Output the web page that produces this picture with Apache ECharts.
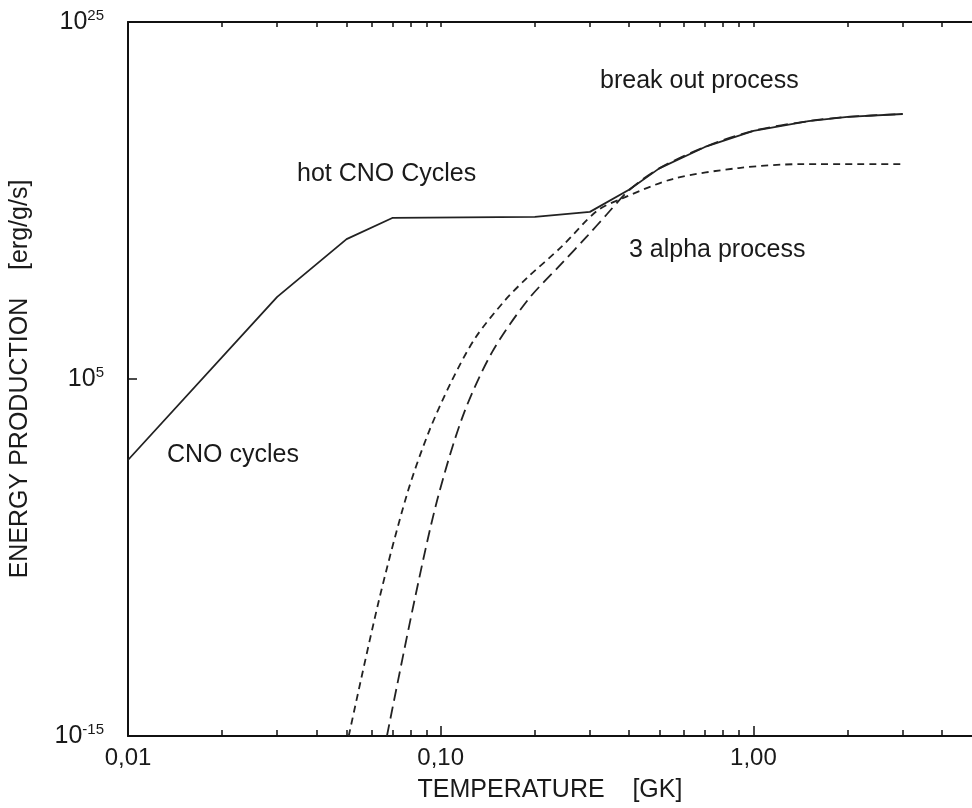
<!DOCTYPE html>
<html><head><meta charset="utf-8">
<script src="https://cdn.jsdelivr.net/npm/echarts@6/dist/echarts.min.js"></script>
<style>html,body{margin:0;padding:0;background:#fff}#c{width:972px;height:808px}</style>
</head><body><div id="c"></div>
<script>
// CNO cycles / hot CNO / break-out (solid)
const cnoT = [0.01, 0.03, 0.05, 0.07, 0.2, 0.3, 0.4, 0.5, 0.7, 1.0, 1.5, 2.0, 3.0];
const cnoE = [2.9e0, 4e9, 6.9e12, 1.05e14, 1.2e14, 2.3e14, 4e15, 6.3e16, 1e18, 8e18, 2.8e19, 4.8e19, 7e19];
// short-dashed curve
const alphaT = [0.0508, 0.0635, 0.0779, 0.0913, 0.108, 0.129, 0.161, 0.19, 0.243, 0.316, 0.384, 0.552, 0.897, 1.45, 3.0];
const alphaE = [1e-15, 4.2e-8, 3.2e-2, 93, 6.8e4, 2e7, 2.7e9, 5.1e10, 2.5e12, 2.6e14, 1.4e15, 1.6e16, 6.6e16, 1.1e17, 1.1e17];
// long-dashed curve
const breakT = [0.0673, 0.0825, 0.0975, 0.118, 0.146, 0.19, 0.243, 0.294, 0.34, 0.401, 0.5, 0.7, 1.0, 1.5, 2.0, 3.0];
const breakE = [1e-15, 4.2e-8, 1.7e-2, 9.5e2, 3.2e6, 2.7e9, 2.8e11, 1e13, 1.7e14, 3.9e15, 6.3e16, 1e18, 8e18, 2.8e19, 4.8e19, 7e19];
// axis ticks / labels
const xMinorTicks = [0.02,0.03,0.04,0.05,0.06,0.07,0.08,0.09,0.2,0.3,0.4,0.5,0.6,0.7,0.8,0.9,2,3,4];
const xMajorTicks = [0.1, 1];
const xLabels = [0.01, 0.1, 1];
const yLabels = [1e-15, 1e5, 1e25];
const yTicks = [1e5];

const zip = (a, b) => a.map((v, i) => [v, b[i]]);
const FONT = 'Liberation Sans, Arial, Helvetica, sans-serif';
const TXT = '#1a1a1a';

const chart = echarts.init(document.getElementById('c'));
const xBase = {type: 'log', logBase: 10, min: 0.01, max: 5, gridIndex: 0, splitLine: {show: false}};
chart.setOption({
  animation: false,
  backgroundColor: '#fff',
  grid: {left: 127, top: 22, bottom: 72, right: -12, containLabel: false},
  xAxis: [
    Object.assign({}, xBase, {
      position: 'bottom',
      name: 'TEMPERATURE    [GK]', nameLocation: 'middle', nameGap: 42,
      nameTextStyle: {fontFamily: FONT, fontSize: 25, color: TXT},
      axisLine: {show: true, lineStyle: {color: '#111', width: 2}},
      axisTick: {show: true, inside: true, length: 6, customValues: xMinorTicks, lineStyle: {color: '#111', width: 1.5}},
      axisLabel: {show: true, customValues: xLabels, margin: 10, fontFamily: FONT, fontSize: 24, color: TXT,
        formatter: v => Number(v).toFixed(2).replace('.', ',')}
    }),
    Object.assign({}, xBase, {
      position: 'top',
      axisLine: {show: true, lineStyle: {color: '#111', width: 2}},
      axisTick: {show: true, inside: true, length: 5, customValues: xMinorTicks.concat(xMajorTicks), lineStyle: {color: '#111', width: 1.5}},
      axisLabel: {show: false}
    }),
    Object.assign({}, xBase, {
      position: 'bottom',
      axisLine: {show: false},
      axisTick: {show: true, inside: true, length: 10, customValues: xMajorTicks, lineStyle: {color: '#111', width: 1.5}},
      axisLabel: {show: false}
    })
  ],
  yAxis: {
    type: 'log', logBase: 10, min: 1e-15, max: 1e25, position: 'left',
    splitLine: {show: false},
    name: 'ENERGY PRODUCTION    [erg/g/s]', nameLocation: 'middle', nameGap: 95,
    nameTextStyle: {fontFamily: FONT, fontSize: 25, color: TXT},
    axisLine: {show: true, lineStyle: {color: '#111', width: 2}},
    axisTick: {show: true, inside: true, length: 9, customValues: yTicks, lineStyle: {color: '#111', width: 1.5}},
    axisLabel: {
      show: true, customValues: yLabels, margin: 24, fontFamily: FONT, color: TXT,
      formatter: v => '{b|10}{s|' + Math.round(Math.log10(v)) + '}',
      rich: {
        b: {fontFamily: FONT, fontSize: 25, color: TXT, lineHeight: 28},
        s: {fontFamily: FONT, fontSize: 15, color: TXT, verticalAlign: 'top', lineHeight: 15}
      }
    }
  },
  series: [
    {type: 'line', name: 'break out', data: zip(breakT, breakE), showSymbol: false, symbol: 'none', smooth: 0.3,
      lineStyle: {color: '#222', width: 1.8, type: [12, 6]}, z: 2},
    {type: 'line', name: '3 alpha', data: zip(alphaT, alphaE), showSymbol: false, symbol: 'none', smooth: 0.3,
      lineStyle: {color: '#222', width: 1.8, type: [7, 5]}, z: 2},
    {type: 'line', name: 'CNO', data: zip(cnoT, cnoE), showSymbol: false, symbol: 'none', smooth: false,
      lineStyle: {color: '#222', width: 1.8, type: 'solid'}, z: 3}
  ],
  graphic: [
    {type: 'text', left: 600, top: 69, style: {text: 'break out process', font: '25px ' + FONT, fill: TXT}},
    {type: 'text', left: 297, top: 162, style: {text: 'hot CNO Cycles', font: '25px ' + FONT, fill: TXT}},
    {type: 'text', left: 629, top: 238, style: {text: '3 alpha process', font: '25px ' + FONT, fill: TXT}},
    {type: 'text', left: 167, top: 443, style: {text: 'CNO cycles', font: '25px ' + FONT, fill: TXT}}
  ]
});
</script>
</body></html>
